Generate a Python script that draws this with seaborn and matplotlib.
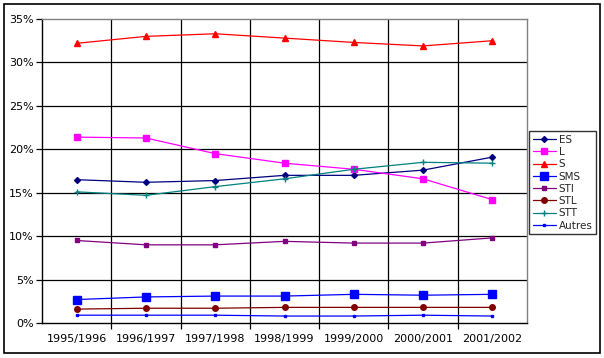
import numpy as np
import pandas as pd
import matplotlib
matplotlib.use("Agg")
import matplotlib.pyplot as plt
import seaborn as sns
from matplotlib.patches import Rectangle
from matplotlib.ticker import FixedLocator, PercentFormatter


YEARS = ["1995/1996", "1996/1997", "1997/1998", "1998/1999",
         "1999/2000", "2000/2001", "2001/2002"]

ES = [16.5, 16.2, 16.4, 17.0, 17.0, 17.6, 19.1]
L = [21.4, 21.3, 19.5, 18.4, 17.7, 16.6, 14.2]
S = [32.2, 33.0, 33.3, 32.8, 32.3, 31.9, 32.5]
SMS = [2.7, 3.0, 3.1, 3.1, 3.3, 3.2, 3.3]
STI = [9.5, 9.0, 9.0, 9.4, 9.2, 9.2, 9.8]
STL = [1.6, 1.7, 1.7, 1.8, 1.8, 1.8, 1.8]
STT = [15.1, 14.7, 15.7, 16.6, 17.7, 18.5, 18.4]
AUTRES = [0.9, 0.9, 0.9, 0.8, 0.8, 0.9, 0.8]

SERIES_NAMES = ["ES", "L", "S", "SMS", "STI", "STL", "STT", "Autres"]
SERIES_VALUES = [ES, L, S, SMS, STI, STL, STT, AUTRES]

STYLES = {
    "ES": dict(color="#000080", marker="D", markersize=3),
    "L": dict(color="#FF00FF", marker="s", markersize=4),
    "S": dict(color="#FF0000", marker="^", markersize=4.5),
    "SMS": dict(color="#0000FF", marker="s", markersize=5.5),
    "STI": dict(color="#800080", marker="s", markersize=2.5),
    "STL": dict(color="#800000", marker="o", markersize=4),
    "STT": dict(color="#008080", marker="+", markersize=4.5),
    "Autres": dict(color="#0000FF", marker="s", markersize=2),
}


def build_frame():
    rows = []
    for name, values in zip(SERIES_NAMES, SERIES_VALUES):
        for i, v in enumerate(values):
            rows.append({"pos": i, "value": v, "serie": name})
    return pd.DataFrame(rows)


def main():
    sns.set_theme(style="white")
    plt.rcParams["font.family"] = ["DejaVu Sans"]

    df = build_frame()

    fig = plt.figure(figsize=(6.04, 3.58), dpi=100)
    ax = fig.add_axes([42 / 604, 35 / 358, 485 / 604, 304 / 358])

    for name in SERIES_NAMES:
        st = STYLES[name]
        sub = df[df["serie"] == name]
        sns.lineplot(data=sub, x="pos", y="value", ax=ax, label=name,
                     color=st["color"], marker=st["marker"],
                     markersize=st["markersize"], markeredgecolor=st["color"],
                     markeredgewidth=1, linewidth=0.9)

    ax.set_xlim(-0.5, len(YEARS) - 0.5)
    ax.set_ylim(0, 35)
    ax.set_xlabel("")
    ax.set_ylabel("")

    ax.xaxis.set_major_locator(FixedLocator(range(len(YEARS))))
    ax.set_xticklabels(YEARS)
    ax.xaxis.set_minor_locator(FixedLocator(np.arange(0.5, len(YEARS) - 0.5, 1)))
    ax.set_yticks(np.arange(0, 36, 5))
    ax.yaxis.set_major_formatter(PercentFormatter(decimals=0))

    ax.grid(False)
    for yv in np.arange(5, 35, 5):
        ax.axhline(yv, color="black", linewidth=0.9, zorder=0)
    for xv in np.arange(0.5, len(YEARS) - 0.5, 1):
        ax.axvline(xv, color="black", linewidth=0.9, zorder=0)

    ax.tick_params(axis="x", which="major", length=0, labelsize=8, pad=8,
                   colors="black")
    ax.tick_params(axis="x", which="minor", length=4, width=0.9, color="black",
                   direction="out", bottom=True)
    ax.tick_params(axis="y", length=4, width=0.9, direction="out", left=True,
                   labelsize=8, colors="black", pad=2)

    for side in ["top", "right"]:
        ax.spines[side].set_color("#808080")
        ax.spines[side].set_linewidth(1)
    for side in ["left", "bottom"]:
        ax.spines[side].set_color("black")
        ax.spines[side].set_linewidth(1)

    handles, labels = ax.get_legend_handles_labels()
    ax.legend_.remove()
    leg = fig.legend(handles, labels, loc="upper left",
                     bbox_to_anchor=(529 / 604, 1 - 131 / 358),
                     fontsize=7.5, frameon=True, fancybox=False,
                     borderpad=0.35, labelspacing=0.22, handlelength=2.2,
                     handletextpad=0.3, borderaxespad=0)
    leg.get_frame().set_edgecolor("black")
    leg.get_frame().set_linewidth(1)

    fig.patches.append(Rectangle((4 / 604, 5 / 358), 596 / 604, 349 / 358,
                                 transform=fig.transFigure, fill=False,
                                 edgecolor="black", linewidth=1.2))

    fig.savefig("out.png", dpi=100)
    plt.close(fig)


if __name__ == "__main__":
    main()
